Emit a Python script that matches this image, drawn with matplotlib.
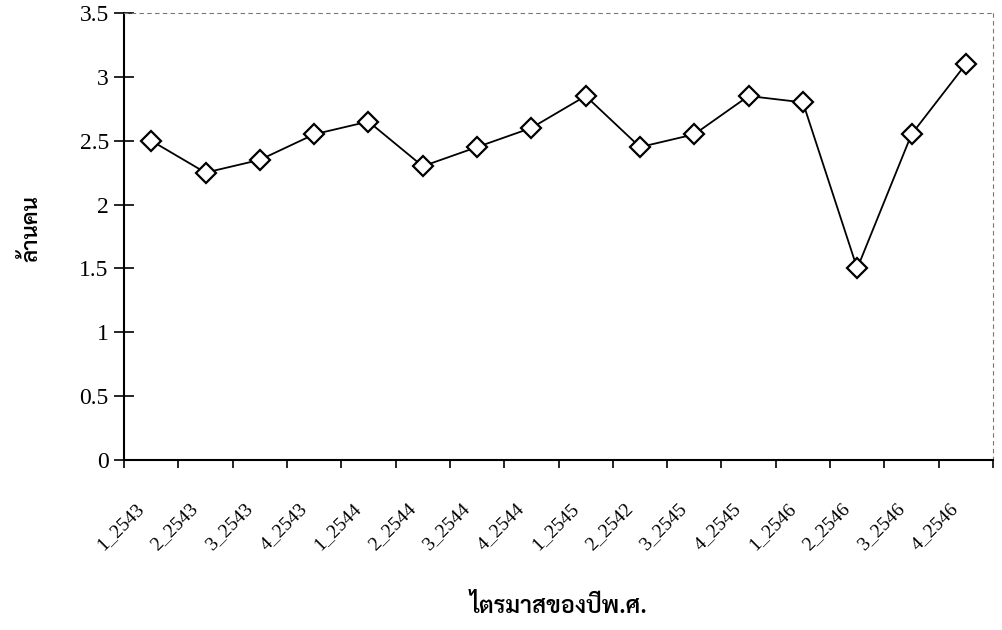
import matplotlib
matplotlib.use("Agg")
import matplotlib.pyplot as plt
from matplotlib import font_manager
from matplotlib.transforms import ScaledTranslation
from matplotlib.ticker import FormatStrFormatter

# data
quarters = ["1_2543", "2_2543", "3_2543", "4_2543",
            "1_2544", "2_2544", "3_2544", "4_2544",
            "1_2545", "2_2542", "3_2545", "4_2545",
            "1_2546", "2_2546", "3_2546", "4_2546"]
people = [2.5, 2.25, 2.35, 2.55,
          2.65, 2.3, 2.45, 2.6,
          2.85, 2.45, 2.55, 2.85,
          2.8, 1.5, 2.55, 3.1]
y_ticks = [0, 0.5, 1, 1.5, 2, 2.5, 3, 3.5]


def thai_font(name, size):
    # pick a Thai-capable font file if present
    for f in font_manager.findSystemFonts():
        if f.endswith(name):
            return font_manager.FontProperties(fname=f, size=size)
    return font_manager.FontProperties(family="DejaVu Sans", size=size)


plt.rcParams["font.family"] = ["Liberation Serif", "DejaVu Serif"]

fig = plt.figure(figsize=(10.02, 6.30), dpi=100)
ax = fig.add_axes([0.1238, 0.2698, 0.8672, 0.7096])

x = list(range(len(quarters)))
ax.plot(x, people, color="black", lw=1.3, marker="D", markersize=10.5,
        markerfacecolor="white", markeredgecolor="black", markeredgewidth=1.6,
        zorder=3)

ax.set_xlim(-0.5, len(quarters) - 0.5)
ax.set_ylim(0, 3.5)

# category boundaries get the tick marks, centres get the labels
ax.set_xticks([i - 0.5 for i in range(len(quarters) + 1)])
ax.set_xticklabels([])
ax.set_xticks(x, minor=True)
ax.set_xticklabels(quarters, minor=True, rotation=45, ha="right", va="top",
                   rotation_mode="anchor", fontsize=14)
ax.tick_params(axis="x", which="major", direction="out", length=6, width=1.2)
ax.tick_params(axis="x", which="minor", length=0, pad=29)
shift = ScaledTranslation(-16 / 100, 0, fig.dpi_scale_trans)
for lab in ax.get_xticklabels(minor=True):
    lab.set_transform(lab.get_transform() + shift)

ax.set_yticks(y_ticks)
ax.yaxis.set_major_formatter(FormatStrFormatter("%g"))
ax.tick_params(axis="y", direction="inout", length=14, width=1.2, pad=4,
               labelsize=17)

for side in ["left", "bottom"]:
    ax.spines[side].set_linewidth(1.5)
for side in ["top", "right"]:
    ax.spines[side].set_color("#777777")
    ax.spines[side].set_linewidth(0.8)
    ax.spines[side].set_linestyle((0, (3, 4)))

ax.set_ylabel("ล้านคน", fontproperties=thai_font("Sarabun-SemiBold.ttf", 16),
              rotation=90, va="center", ha="center")
ax.yaxis.set_label_coords(-0.107, 0.517)
ax.set_xlabel("ไตรมาสของปีพ.ศ.", fontproperties=thai_font("Sarabun-SemiBold.ttf", 17),
              va="center", ha="center")
ax.xaxis.set_label_coords(0.5, -0.327)

fig.savefig("out.png", dpi=100)
